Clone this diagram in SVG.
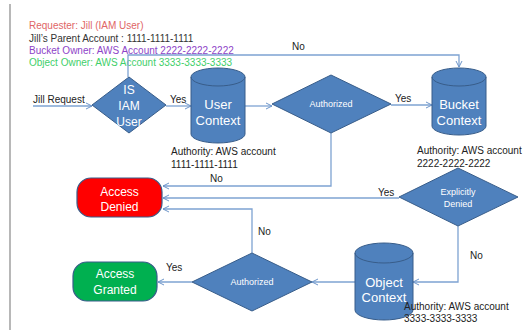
<svg xmlns="http://www.w3.org/2000/svg" width="530" height="330" viewBox="0 0 530 330">
<defs>
<marker id="arr" markerWidth="8" markerHeight="8" refX="7" refY="4" orient="auto" markerUnits="userSpaceOnUse">
<path d="M1,1 L7,4 L1,7" fill="none" stroke="#6d95c9" stroke-width="1"/>
</marker>
<style>
.shape{fill:#4f81bd;stroke:#385d8a;stroke-width:1}
.conn{fill:none;stroke:#7ea3d2;stroke-width:1.3}
.nt{font-family:"Liberation Sans",Arial,sans-serif;fill:#ffffff;text-anchor:middle}
.lbl{font-family:"Liberation Sans",Arial,sans-serif;font-size:10px;fill:#222}
.hdr{font-family:"Liberation Sans",Arial,sans-serif;font-size:10px}
</style>
</defs>
<rect width="530" height="330" fill="#ffffff"/>
<line x1="10" y1="4" x2="10" y2="330" stroke="#888" stroke-width="1.2"/>

<g id="header">
<text class="hdr" x="29" y="29" fill="#e06666">Requester: Jill (IAM  User)</text>
<text class="hdr" x="29" y="42" fill="#333">Jill’s Parent Account : 1111-1111-1111</text>
<text class="hdr" x="29" y="54" fill="#8e44c8">Bucket Owner: AWS Account 2222-2222-2222</text>
<text class="hdr" x="29" y="66" fill="#3fcf6a">Object Owner: AWS Account 3333-3333-3333</text>
</g>

<g id="connectors">
<polyline class="conn" points="33,106 92,106" marker-end="url(#arr)"/>
<polyline class="conn" points="128,77 128,55 459,55 459,67" marker-end="url(#arr)"/>
<polyline class="conn" points="166,106 191,106" marker-end="url(#arr)"/>
<polyline class="conn" points="245,106 272,106" marker-end="url(#arr)"/>
<polyline class="conn" points="391,105 432,105" marker-end="url(#arr)"/>
<polyline class="conn" points="331,133 331,186 163,186" marker-end="url(#arr)"/>
<polyline class="conn" points="399,198 163,198" marker-end="url(#arr)"/>
<polyline class="conn" points="458,226 458,282 413,282" marker-end="url(#arr)"/>
<polyline class="conn" points="355,282 312,282" marker-end="url(#arr)"/>
<polyline class="conn" points="252,253 252,209 163,209" marker-end="url(#arr)"/>
<polyline class="conn" points="192,282 158,282" marker-end="url(#arr)"/>
<text class="lbl" x="33" y="103">Jill Request</text>
<text class="lbl" x="292" y="50">No</text>
<text class="lbl" x="170" y="103">Yes</text>
<text class="lbl" x="395" y="102">Yes</text>
<text class="lbl" x="210" y="182">No</text>
<text class="lbl" x="378" y="196">Yes</text>
<text class="lbl" x="470" y="259">No</text>
<text class="lbl" x="258" y="235">No</text>
<text class="lbl" x="166" y="271">Yes</text>
</g>

<g id="is-iam-user">
<polygon class="shape" points="129,77 166,105 129,133 92,105"/>
<text class="nt" font-size="12" x="129" y="94">IS</text>
<text class="nt" font-size="12" x="129" y="110">IAM</text>
<text class="nt" font-size="12" x="129" y="126">User</text>
</g>

<g id="user-context">
<path class="shape" d="M191,77 A27,9 0 0 1 245,77 L245,134 A27,9 0 0 1 191,134 Z"/>
<path d="M191,77 A27,9 0 0 0 245,77" fill="none" stroke="#385d8a"/>
<text class="nt" font-size="13" x="218" y="109">User</text>
<text class="nt" font-size="13" x="218" y="125">Context</text>
<text class="lbl" x="171" y="155">Authority: AWS  account</text>
<text class="lbl" x="171" y="168">1111-1111-1111</text>
</g>

<g id="authorized-1">
<polygon class="shape" points="331,75 391,104 331,133 272,104"/>
<text class="nt" font-size="9" x="331" y="107">Authorized</text>
</g>

<g id="bucket-context">
<path class="shape" d="M432,77 A27,9 0 0 1 486,77 L486,126 A27,9 0 0 1 432,126 Z"/>
<path d="M432,77 A27,9 0 0 0 486,77" fill="none" stroke="#385d8a"/>
<text class="nt" font-size="13" x="459" y="109">Bucket</text>
<text class="nt" font-size="13" x="459" y="125">Context</text>
<text class="lbl" x="417" y="154">Authority: AWS  account</text>
<text class="lbl" x="417" y="167">2222-2222-2222</text>
</g>

<g id="explicitly-denied">
<polygon class="shape" points="458,168 518,197 458,226 399,197"/>
<text class="nt" font-size="9" x="458" y="195">Explicitly</text>
<text class="nt" font-size="9" x="458" y="207">Denied</text>
</g>

<g id="object-context">
<path class="shape" d="M355,253 A29,10 0 0 1 413,253 L413,310 A29,10 0 0 1 355,310 Z"/>
<path d="M355,253 A29,10 0 0 0 413,253" fill="none" stroke="#385d8a"/>
<text class="nt" font-size="13" x="384" y="287">Object</text>
<text class="nt" font-size="13" x="384" y="302">Context</text>
<text class="lbl" x="404" y="310">Authority: AWS  account</text>
<text class="lbl" x="404" y="322">3333-3333-3333</text>
</g>

<g id="authorized-2">
<polygon class="shape" points="252,253 312,282 252,311 192,282"/>
<text class="nt" font-size="9" x="252" y="285">Authorized</text>
</g>

<g id="access-denied">
<rect x="77" y="178" width="85" height="39" rx="14" fill="#ff0000" stroke="#385d8a" stroke-width="1.2"/>
<text class="nt" font-size="12" x="119.5" y="196">Access</text>
<text class="nt" font-size="12" x="119.5" y="211">Denied</text>
</g>

<g id="access-granted">
<rect x="73" y="262" width="84" height="39" rx="14" fill="#00b050" stroke="#385d8a" stroke-width="1.2"/>
<text class="nt" font-size="12" x="115" y="278">Access</text>
<text class="nt" font-size="12" x="115" y="294">Granted</text>
</g>
</svg>
